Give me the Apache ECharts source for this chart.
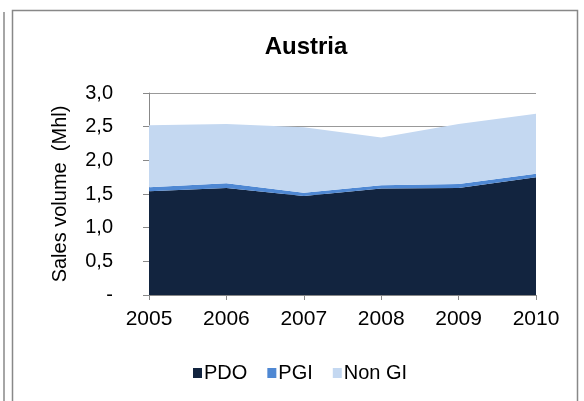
<!DOCTYPE html>
<html>
<head>
<meta charset="utf-8">
<script src="https://cdn.jsdelivr.net/npm/echarts@6/dist/echarts.min.js"></script>
<style>
  html, body { margin: 0; padding: 0; background: #fff; }
  #chart { width: 584px; height: 401px; }
</style>
</head>
<body>
<div id="chart"></div>
<script>
// data (Mhl)
const years = ['2005', '2006', '2007', '2008', '2009', '2010'];
const pdo = [1.54, 1.59, 1.47, 1.58, 1.59, 1.75];
const pgi = [0.06, 0.07, 0.05, 0.05, 0.06, 0.05];
const nonGi = [0.92, 0.88, 0.97, 0.71, 0.89, 0.89];

const myChart = echarts.init(document.getElementById('chart'));

const font = 'Liberation Sans, Arial, sans-serif';

function area(name, data, color) {
  return {
    name: name,
    type: 'line',
    stack: 'total',
    data: data,
    showSymbol: false,
    symbol: 'none',
    lineStyle: { width: 0 },
    itemStyle: { color: color },
    areaStyle: { color: color, opacity: 1 }
  };
}

myChart.setOption({
  animation: false,
  title: {
    text: 'Austria',
    left: 301,
    textAlign: 'center',
    top: 30,
    textStyle: { fontFamily: font, fontSize: 24, fontWeight: 'bold', color: '#000' }
  },
  legend: {
    top: 358,
    left: 188,
    itemWidth: 9,
    itemHeight: 10,
    itemGap: 20,
    icon: 'rect',
    textStyle: { fontFamily: font, fontSize: 20, color: '#000', padding: [0, 0, 0, -3] },
    data: ['PDO', 'PGI', 'Non GI']
  },
  grid: { left: 149, right: 48, top: 93, bottom: 106 },
  xAxis: {
    type: 'category',
    data: years,
    boundaryGap: false,
    axisLine: { lineStyle: { color: '#888', width: 1 } },
    axisTick: { alignWithLabel: true, length: 5, lineStyle: { color: '#888' } },
    axisLabel: { fontFamily: font, fontSize: 21, color: '#000', margin: 14 }
  },
  yAxis: {
    type: 'value',
    min: 0,
    max: 3,
    interval: 0.5,
    name: 'Sales volume  (Mhl)',
    nameLocation: 'middle',
    nameGap: 79,
    nameTextStyle: { fontFamily: font, fontSize: 20, color: '#000' },
    axisLine: { show: true, lineStyle: { color: '#888' } },
    axisTick: { show: true, length: 6, lineStyle: { color: '#888' } },
    splitLine: { lineStyle: { color: '#999', width: 1 } },
    axisLabel: {
      fontFamily: font, fontSize: 20, color: '#000', margin: 36,
      formatter: v => v === 0 ? '-' : v.toFixed(1).replace('.', ',')
    }
  },
  graphic: [
    { type: 'rect', shape: { x: 12.5, y: 10.5, width: 565, height: 400 },
      style: { fill: 'none', stroke: '#888', lineWidth: 1.5 }, silent: true },
    { type: 'line', shape: { x1: 4, y1: 12, x2: 4, y2: 401 },
      style: { stroke: '#888', lineWidth: 1.5 }, silent: true }
  ],
  series: [
    area('PDO', pdo, '#12243f'),
    area('PGI', pgi, '#4f88d3'),
    area('Non GI', nonGi, '#c4d8f1')
  ]
});

window.onresize = function () {
  myChart.resize();
};
</script>
</body>
</html>
